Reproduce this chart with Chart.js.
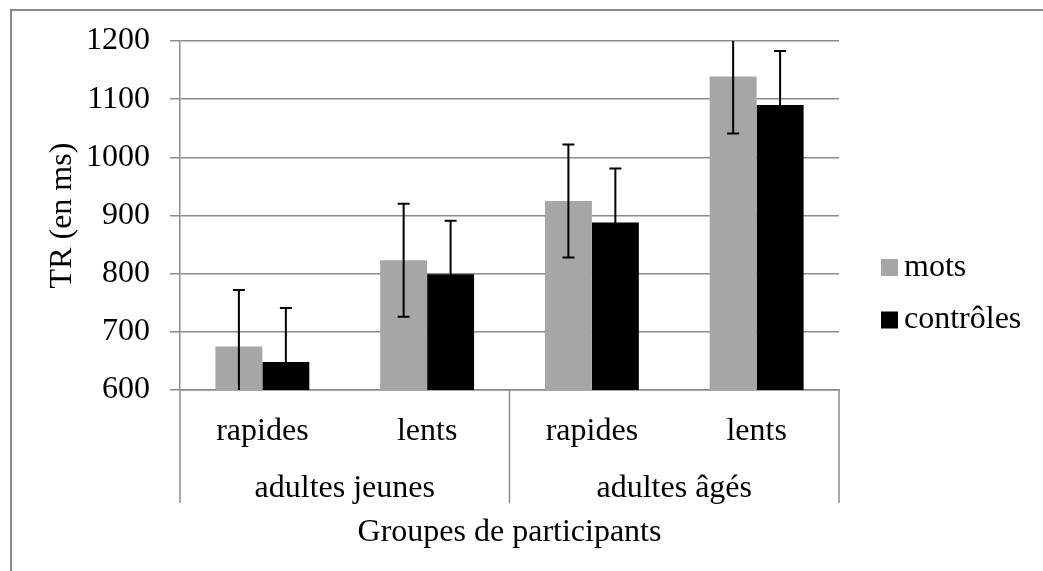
<!DOCTYPE html>
<html>
<head>
<meta charset="utf-8">
<script src="https://cdn.jsdelivr.net/npm/chart.js@4/dist/chart.umd.min.js"></script>
<style>
  body { margin: 0; background: #fff; }
  #frame { position: absolute; left: 10px; top: 9px; width: 1100px; height: 600px;
           border-top: 2px solid #8a8a8a; border-left: 2px solid #8a8a8a; }
  #wrap { position: absolute; left: 0; top: 0; width: 1043px; height: 571px; }
</style>
</head>
<body>
<div id="frame"></div>
<div id="wrap"><canvas id="tr"></canvas></div>
<script>
// reaction times per group
const categories = ['rapides', 'lents', 'rapides', 'lents'];
const groups = ['adultes jeunes', 'adultes âgés'];
const seriesNames = ['mots', 'contrôles'];
const mots = [675, 823, 925, 1139];
const motsErr = [97, 97, 97, 98];
const controles = [648, 799, 888, 1090];
const controlesErr = [93, 92, 93, 93];
const yMin = 600, yMax = 1200, yStep = 100;

const FONT = 'Liberation Serif';
const FS = 32;
const GRID = '#8c8c8c';

Chart.defaults.font.family = FONT;
Chart.defaults.color = '#000';

// error bars, clipped to the plot like the original
const errorBars = {
    id: 'errorBars',
    afterDatasetsDraw(chart) {
        const ctx = chart.ctx;
        const y = chart.scales.y;
        const a = chart.chartArea;
        ctx.save();
        ctx.beginPath();
        ctx.rect(a.left, a.top, a.right - a.left, a.bottom - a.top);
        ctx.clip();
        ctx.strokeStyle = '#000';
        ctx.lineWidth = 2;
        chart.data.datasets.forEach((ds, i) => {
            const meta = chart.getDatasetMeta(i);
            meta.data.forEach((bar, j) => {
                const v = ds.data[j], e = ds.errors[j];
                const yTop = y.getPixelForValue(v + e);
                const yBot = y.getPixelForValue(v - e);
                ctx.beginPath();
                ctx.moveTo(bar.x, yTop); ctx.lineTo(bar.x, yBot);
                ctx.moveTo(bar.x - 6, yTop); ctx.lineTo(bar.x + 6, yTop);
                ctx.moveTo(bar.x - 6, yBot); ctx.lineTo(bar.x + 6, yBot);
                ctx.stroke();
            });
        });
        ctx.restore();
    }
};

// group dividers under the axis + legend on the right
const extras = {
    id: 'extras',
    afterDraw(chart) {
        const ctx = chart.ctx;
        const a = chart.chartArea;
        const g = chart.scales.x2;
        const half = (g.getPixelForValue(1) - g.getPixelForValue(0)) / 2;
        const xs = [g.getPixelForValue(0) - half, g.getPixelForValue(0) + half, g.getPixelForValue(1) + half];
        ctx.save();
        ctx.strokeStyle = GRID;
        ctx.lineWidth = 1.5;
        xs.forEach(x => {
            ctx.beginPath();
            ctx.moveTo(x, a.bottom);
            ctx.lineTo(x, g.top + 51);
            ctx.stroke();
        });

        ctx.font = FS + 'px "' + FONT + '"';
        ctx.textBaseline = 'middle';
        const y0 = chart.height / 2 - 18;
        chart.data.datasets.forEach((ds, i) => {
            const yy = y0 + i * 52.5;
            ctx.fillStyle = ds.backgroundColor;
            ctx.fillRect(a.right + 42, yy - 8.5, 17, 17);
            ctx.fillStyle = '#000';
            ctx.fillText(ds.label, a.right + 65, yy);
        });
        ctx.restore();
    }
};

new Chart(document.getElementById('tr'), {
    type: 'bar',
    data: {
        labels: categories,
        datasets: [
            { label: seriesNames[0], data: mots, errors: motsErr, backgroundColor: '#a6a6a6' },
            { label: seriesNames[1], data: controles, errors: controlesErr, backgroundColor: '#000000' }
        ]
    },
    options: {
        responsive: true,
        maintainAspectRatio: false,
        animation: false,
        datasets: { bar: { categoryPercentage: 0.57, barPercentage: 1 } },
        layout: { padding: { left: 43, top: 41, right: 204, bottom: 19.4 } },
        plugins: { legend: { display: false }, tooltip: { enabled: false } },
        scales: {
            y: {
                min: yMin, max: yMax,
                ticks: { stepSize: yStep, font: { size: FS }, padding: 20, color: '#000',
                         callback: v => String(v) },
                grid: { color: GRID, lineWidth: 1.5, tickLength: 10 },
                border: { color: GRID, width: 1.5 },
                title: { display: true, text: 'TR (en ms)', font: { size: FS }, padding: 0 },
                afterFit: s => { s.width = 137; }
            },
            x: {
                weight: 0,
                ticks: { font: { size: FS }, padding: 22, color: '#000', maxRotation: 0, autoSkip: false },
                grid: { display: false, drawTicks: false },
                border: { color: GRID, width: 1.5 },
                afterFit: s => { s.height = 62; }
            },
            x2: {
                type: 'category',
                labels: groups,
                position: 'bottom',
                offset: true,
                weight: 1,
                ticks: { font: { size: FS }, padding: 17, color: '#000', maxRotation: 0 },
                grid: { display: false, drawTicks: false },
                border: { display: false },
                title: { display: true, text: 'Groupes de participants', font: { size: FS }, padding: 0 },
                afterFit: s => { s.height = 99.6; }
            }
        }
    },
    plugins: [errorBars, extras]
});
</script>
</body>
</html>
